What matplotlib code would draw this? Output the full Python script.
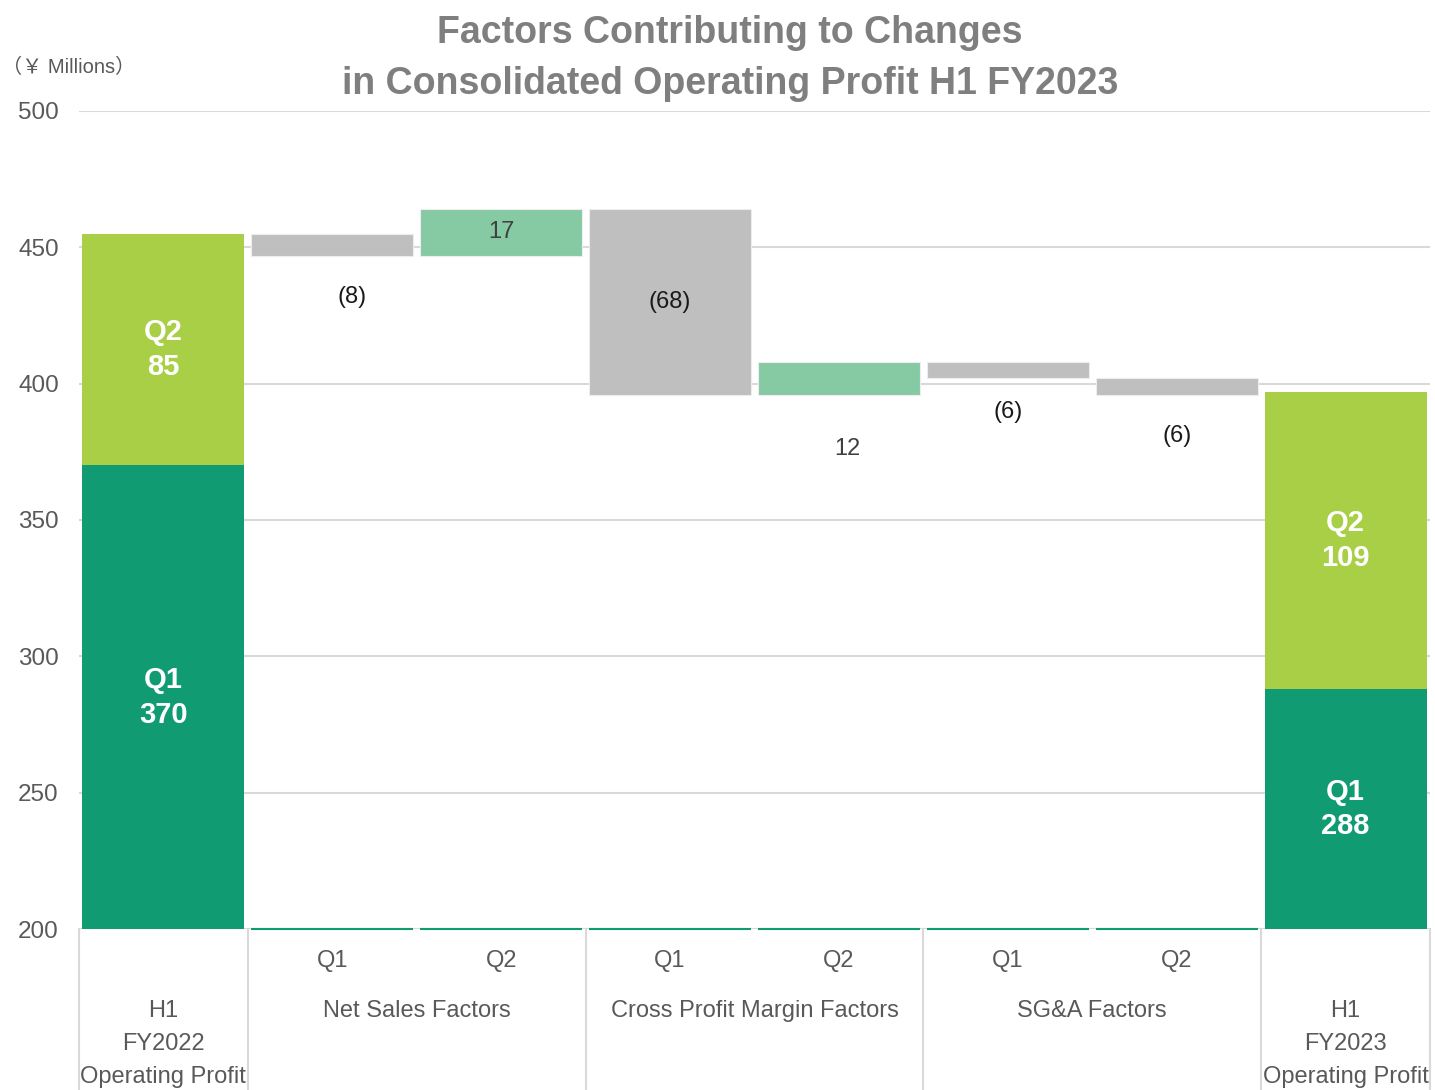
import numpy as np
import matplotlib
matplotlib.use("Agg")
import matplotlib.pyplot as plt
from matplotlib.transforms import blended_transform_factory

plt.rcParams['font.family'] = ['Liberation Sans', 'Noto Sans CJK JP', 'DejaVu Sans']

# ---- data -------------------------------------------------------------
start_q1 = 370
start_q2 = 85
end_q1 = 288
end_q2 = 109
factor_values = [-8, 17, -68, 12, -6, -6]
factor_quarters = ["Q1", "Q2", "Q1", "Q2", "Q1", "Q2"]
factor_groups = ["Net Sales Factors", "Cross Profit Margin Factors", "SG&A Factors"]
start_label = ["H1", "FY2022", "Operating Profit"]
end_label = ["H1", "FY2023", "Operating Profit"]
y_ticks = [200, 250, 300, 350, 400, 450, 500]

# ---- style ------------------------------------------------------------
C_Q1 = "#119B73"
C_Q2 = "#A9CF46"
C_UP = "#86CAA3"
C_DOWN = "#BFBFBF"
C_GRID = "#D9D9D9"
C_TEXT = "#595959"
BAR_W = 0.96
# offsets (points) of each factor label; (0, 0) means centred in the bar
label_off = [(14, -30), (0, 0), (0, 0), (6, -39), (0, -24), (0, -30)]

W, H = 1435, 1090
fig = plt.figure(figsize=(W / 100, H / 100), dpi=100)
ax_l, ax_r, ax_t, ax_b = 79, 1430, 111, 929
ax = fig.add_axes([ax_l / W, (H - ax_b) / H, (ax_r - ax_l) / W, (ax_b - ax_t) / H])

ymin, ymax = y_ticks[0], y_ticks[-1]
n = len(factor_values) + 2
x = np.arange(n)
ax.set_xlim(-0.5, n - 0.5)
ax.set_ylim(ymin, ymax)

# gridlines
for t in y_ticks:
    ax.axhline(t, color=C_GRID, lw=1.5, zorder=0)

# start and end stacked bars
ends = [(0, start_q1, start_q2), (n - 1, end_q1, end_q2)]
for xi, q1, q2 in ends:
    ax.bar(xi, q1, width=BAR_W, color=C_Q1, zorder=2)
    ax.bar(xi, q2, bottom=q1, width=BAR_W, color=C_Q2, zorder=2)
    c1 = (max(0, ymin) + q1) / 2
    ax.text(xi, c1, f"Q1\n{q1}", ha="center", va="center", color="white",
            fontsize=21, fontweight="bold", linespacing=1.3, zorder=3)
    c2 = q1 + q2 / 2
    ax.text(xi, c2, f"Q2\n{q2}", ha="center", va="center", color="white",
            fontsize=21, fontweight="bold", linespacing=1.3, zorder=3)

# floating factor bars
level = start_q1 + start_q2
for i, v in enumerate(factor_values):
    xi = i + 1
    new = level + v
    bottom = min(level, new)
    color = C_UP if v > 0 else C_DOWN
    ax.bar(xi, abs(v), bottom=bottom, width=BAR_W, color=color,
           edgecolor="#EDEDED", linewidth=0.8, zorder=2)
    txt = f"{v}" if v > 0 else f"({-v})"
    tcol = "#404040" if v > 0 else "#1A1A1A"
    dx, dy = label_off[i]
    if (dx, dy) == (0, 0):
        ax.text(xi, bottom + abs(v) / 2, txt, ha="center",
                va="center", fontsize=17, color=tcol, zorder=3)
    else:
        ax.annotate(txt, (xi, bottom), xytext=(dx, dy), textcoords="offset points",
                    ha="center", va="center", fontsize=17, color=tcol, zorder=3)
    # base line of the hidden series
    ax.hlines(ymin, xi - BAR_W / 2, xi + BAR_W / 2, color=C_Q1, lw=1.5,
              zorder=3, clip_on=False)
    level = new

# axes cosmetics
for s in ax.spines.values():
    s.set_visible(False)
ax.set_yticks(y_ticks)
ax.set_yticklabels([str(t) for t in y_ticks], fontsize=17.5, color=C_TEXT)
ax.tick_params(axis="y", length=0, pad=14.5)
ax.set_xticks([])

# category label area below the plot
tr = blended_transform_factory(ax.transData, ax.transAxes)
ph = ax_b - ax_t
below = (H - ax_b) / ph
for xb in [-0.5, 0.5, 2.5, 4.5, 6.5, n - 0.5]:
    ax.plot([xb, xb], [0, -below], color=C_GRID, lw=1.5, transform=tr, clip_on=False)

for i, q in enumerate(factor_quarters):
    ax.text(i + 1, -32 / ph, q, transform=tr, ha="center", va="center",
            fontsize=17, color=C_TEXT)
for g, name in enumerate(factor_groups):
    ax.text(1.5 + 2 * g, -82 / ph, name, transform=tr, ha="center", va="center",
            fontsize=17, color=C_TEXT)
for xi, lines in [(0, start_label), (n - 1, end_label)]:
    for k, line in enumerate(lines):
        ax.text(xi, -(82 + 33 * k) / ph, line, transform=tr, ha="center", va="center",
                fontsize=17, color=C_TEXT)

# title and unit
fig.text(730 / W, 1 - 33 / H, "Factors Contributing to Changes", ha="center", va="center",
         fontsize=27, fontweight="bold", color="#7F7F7F")
fig.text(730 / W, 1 - 84 / H, "in Consolidated Operating Profit H1 FY2023", ha="center",
         va="center", fontsize=27, fontweight="bold", color="#7F7F7F")
fig.text(2 / W, 1 - 67 / H, "（￥ Millions）", ha="left", va="center", fontsize=14.5,
         color=C_TEXT)

fig.savefig("out.png", dpi=100, facecolor="white")
